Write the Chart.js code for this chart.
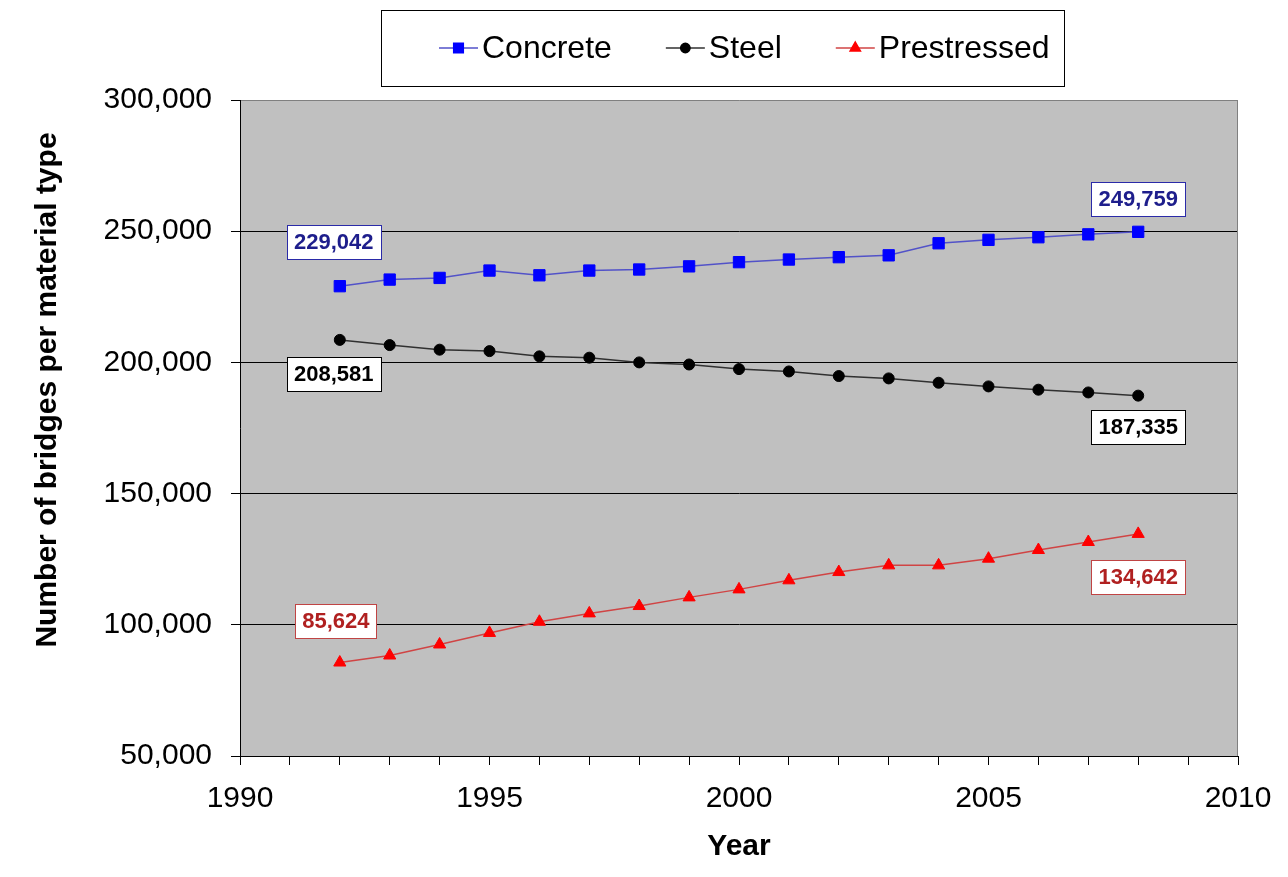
<!DOCTYPE html>
<html>
<head>
<meta charset="utf-8">
<script src="https://cdn.jsdelivr.net/npm/chart.js@4.4.1/dist/chart.umd.min.js"></script>
<style>
body{margin:0;background:#fff;}
#wrap{width:1288px;height:877px;}
</style>
</head>
<body>
<div id="wrap"><canvas id="c" width="1288" height="877"></canvas></div>
<script>
const years=[1992,1993,1994,1995,1996,1997,1998,1999,2000,2001,2002,2003,2004,2005,2006,2007,2008];
const concrete=[229042,231560,232200,235000,233200,235000,235400,236600,238200,239200,240100,240800,245400,246700,247700,248800,249759];
const steel=[208581,206600,204850,204300,202300,201800,200000,199200,197450,196550,194800,193900,192250,190850,189600,188550,187335];
const prestressed=[85624,88300,92500,96900,101150,104350,107150,110450,113500,116950,120100,122650,122650,125200,128500,131550,134642];
const yTicks=[50000,100000,150000,200000,250000,300000];
const xLabels=[1990,1995,2000,2005,2010];

const FONT='"Liberation Sans", Arial, sans-serif';
const pts=arr=>years.map((y,i)=>({x:y,y:arr[i]}));

// end labels: [dataset, point index, dx, dy, text colour, border colour]
const endLabels=[
 [0,0,-6,-44,'#1e1e8c','#2a2aa8'],
 [0,16,0,-33,'#1e1e8c','#2a2aa8'],
 [1,0,-6,34,'#000','#000'],
 [1,16,0,31,'#000','#000'],
 [2,0,-4,-42,'#b02020','#c04444'],
 [2,16,0,43,'#b02020','#c04444']
];

const plotBg={
 id:'plotBg',
 beforeDraw(chart){
  const {ctx,chartArea:a}=chart;
  ctx.save();ctx.fillStyle='#c0c0c0';ctx.fillRect(a.left,a.top,a.right-a.left,a.bottom-a.top);ctx.restore();
 },
 beforeDatasetsDraw(chart){
  const {ctx,chartArea:a}=chart;
  ctx.save();ctx.strokeStyle='#808080';ctx.lineWidth=1;
  ctx.beginPath();ctx.moveTo(a.right-0.5,a.top);ctx.lineTo(a.right-0.5,a.bottom);ctx.stroke();ctx.restore();
 },
 afterDraw(chart){
  const ctx=chart.ctx;
  ctx.save();
  // y axis title
  ctx.translate(48,390);ctx.rotate(-Math.PI/2);
  ctx.font='bold 30px '+FONT;ctx.fillStyle='#000';ctx.textAlign='center';ctx.textBaseline='middle';
  ctx.fillText('Number of bridges per material type',0,0);
  ctx.restore();

  // value labels
  ctx.save();
  ctx.font='bold 22px '+FONT;ctx.textAlign='center';ctx.textBaseline='middle';
  endLabels.forEach(l=>{
   const p=chart.getDatasetMeta(l[0]).data[l[1]];
   const txt=chart.data.datasets[l[0]].data[l[1]].y.toLocaleString('en-US');
   const w=ctx.measureText(txt).width+14,h=34;
   const cx=p.x+l[2],cy=p.y+l[3];
   ctx.fillStyle='#fff';ctx.fillRect(Math.round(cx-w/2)+0.5,Math.round(cy-h/2)+0.5,Math.round(w),h);
   ctx.strokeStyle=l[5];ctx.lineWidth=1;ctx.strokeRect(Math.round(cx-w/2)+0.5,Math.round(cy-h/2)+0.5,Math.round(w),h);
   ctx.fillStyle=l[4];ctx.fillText(txt,cx,cy+1);
  });
  ctx.restore();

  // legend box
  ctx.save();
  ctx.fillStyle='#fff';ctx.fillRect(381.5,10.5,683,76);
  ctx.strokeStyle='#000';ctx.lineWidth=1;ctx.strokeRect(381.5,10.5,683,76);
  ctx.font='32px '+FONT;ctx.textBaseline='middle';ctx.textAlign='left';
  let x=439;const y=48;
  chart.data.datasets.forEach(ds=>{
   ctx.strokeStyle=ds.borderColor;ctx.lineWidth=1.5;
   ctx.beginPath();ctx.moveTo(x,y);ctx.lineTo(x+39,y);ctx.stroke();
   ctx.fillStyle=ds.pointBackgroundColor;ctx.strokeStyle=ds.pointBorderColor;
   Chart.helpers.drawPoint(ctx,{pointStyle:ds.pointStyle,radius:ds.pointRadius*0.85,borderWidth:1},x+19.5,y);
   ctx.fillStyle='#000';
   ctx.fillText(ds.label,x+43,y+1);
   x+=43+ctx.measureText(ds.label).width+54;
  });
  ctx.restore();
 }
};

function ds(label,arr,line,mark,style,r){
 return {label:label,data:pts(arr),borderColor:line,borderWidth:1.5,pointStyle:style,pointRadius:r,
  pointBackgroundColor:mark,pointBorderColor:mark,pointBorderWidth:1,tension:0,fill:false};
}

new Chart(document.getElementById('c'),{
 type:'line',
 data:{datasets:[
  ds('Concrete',concrete,'#5252c8','#0000ff','rect',8),
  ds('Steel',steel,'#303030','#000000','circle',5.5),
  ds('Prestressed',prestressed,'#d04444','#ff0000','triangle',7)
 ]},
 options:{
  responsive:false,animation:false,devicePixelRatio:1,
  layout:{padding:{top:100,right:50,left:0,bottom:0}},
  plugins:{legend:{display:false},tooltip:{enabled:false}},
  scales:{
   x:{type:'linear',min:1990,max:2010,
    afterFit(s){s.height=121;},
    afterBuildTicks(s){s.ticks=[];for(let v=1990;v<=2010;v++)s.ticks.push({value:v});},
    ticks:{autoSkip:false,maxRotation:0,padding:16,color:'#000',font:{family:FONT,size:30},
     callback:v=>xLabels.includes(v)?String(v):''},
    grid:{drawOnChartArea:false,color:'#000',tickLength:9},
    border:{display:true,color:'#000',width:1},
    title:{display:true,text:'Year',color:'#000',font:{family:FONT,size:30,weight:'bold'},padding:{top:0,bottom:12}}
   },
   y:{min:50000,max:300000,
    afterFit(s){s.width=240;},
    afterBuildTicks(s){s.ticks=yTicks.map(v=>({value:v}));},
    ticks:{padding:19,color:'#000',font:{family:FONT,size:30},callback:v=>v.toLocaleString('en-US')},
    grid:{color:c=>c.tick&&c.tick.value===300000?'#808080':'#000',tickColor:'#000',tickLength:9},
    border:{display:true,color:'#000',width:1}
   }
  }
 },
 plugins:[plotBg]
});
</script>
</body>
</html>
